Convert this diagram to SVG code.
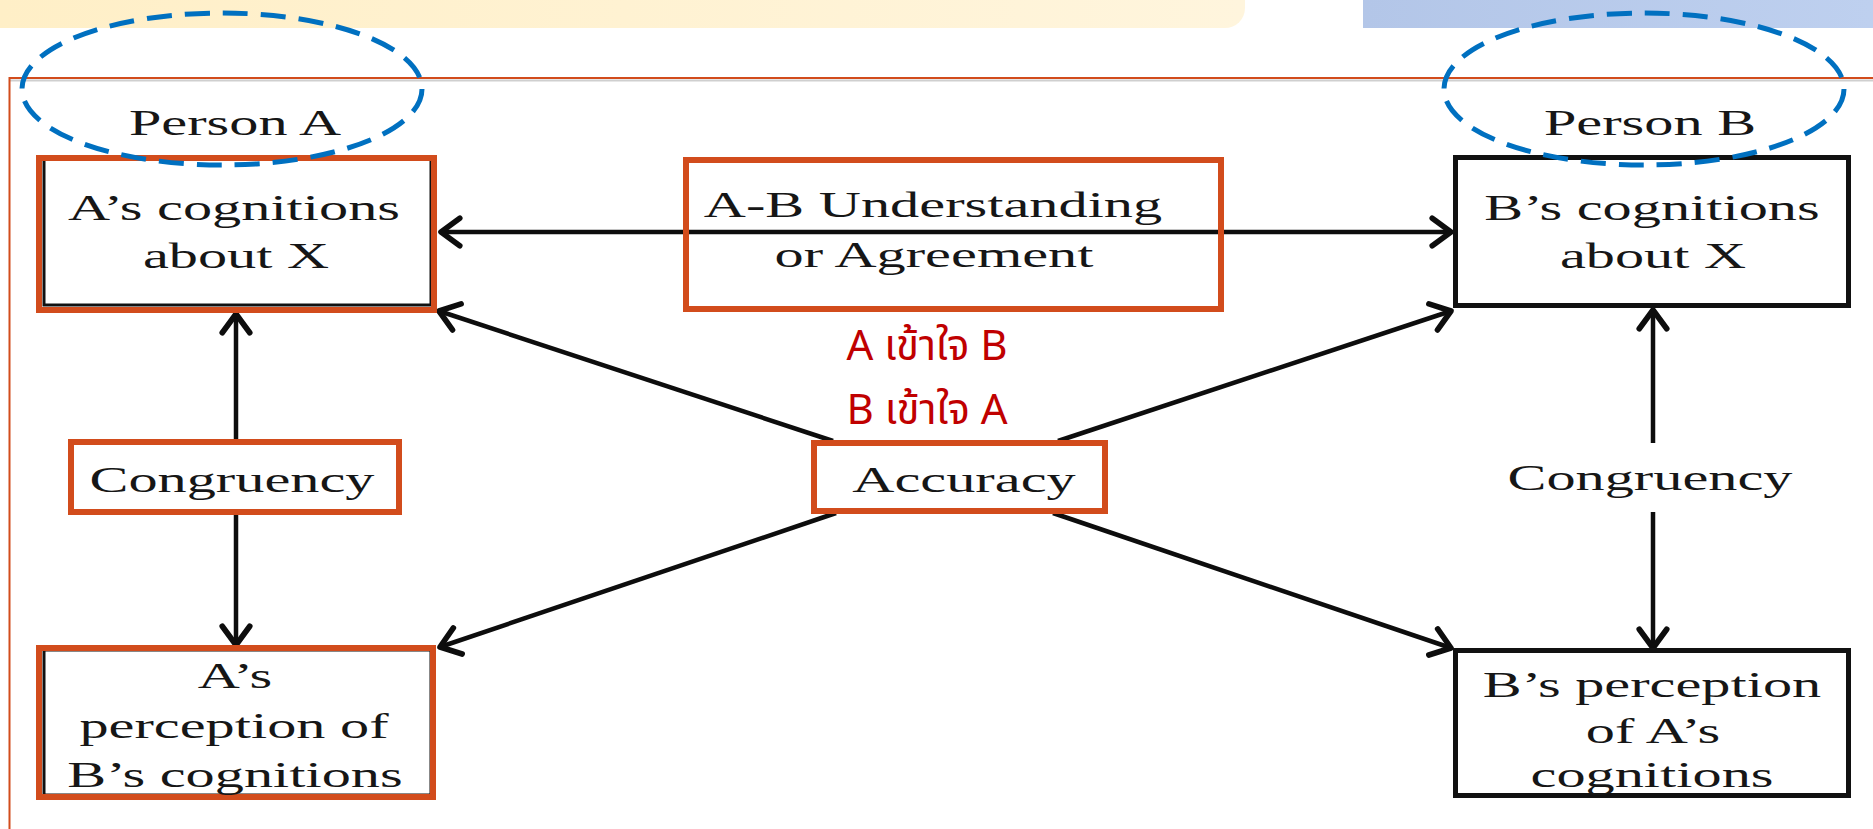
<svg xmlns="http://www.w3.org/2000/svg" width="1873" height="829" viewBox="0 0 1873 829">
  <style>
    .t { font-family: "Liberation Serif", "Times New Roman", serif; font-size: 36px; fill: #161616; text-anchor: middle; }
    .th { font-family: "Noto Sans", "Noto Sans Thai", "DejaVu Sans", sans-serif; font-size: 42px; fill: #C00000; text-anchor: middle; }
    .hl { fill: none; stroke: #D24C1C; stroke-width: 6; }
    .bx { fill: none; stroke: #111111; stroke-width: 3; }
    .bk { fill: #ffffff; stroke: #111111; stroke-width: 5; }
    .ring { fill: none; stroke: #0070C0; stroke-width: 5; stroke-dasharray: 25 13; }
    .ln { fill: none; stroke: #0d0d0d; stroke-width: 4.5; }
  </style>
  <defs>
    <linearGradient id="barY" x1="0" y1="0" x2="1" y2="0">
      <stop offset="0" stop-color="#FFEFC7"/>
      <stop offset="1" stop-color="#FFF5DD"/>
    </linearGradient>
    <linearGradient id="barB" x1="0" y1="0" x2="1" y2="0">
      <stop offset="0" stop-color="#B3C6E8"/>
      <stop offset="1" stop-color="#BED0EF"/>
    </linearGradient>
    <marker id="arr" markerUnits="userSpaceOnUse" markerWidth="40" markerHeight="40" viewBox="-22 -16 26 32" refX="0" refY="0" orient="auto-start-reverse">
      <path d="M-15,-11 L0,0 L-15,11" fill="none" stroke="#0d0d0d" stroke-width="4.5" stroke-linecap="round" stroke-linejoin="round"/>
    </marker>
  </defs>

  <rect width="1873" height="829" fill="#ffffff"/>

  <!-- header strips -->
  <path d="M0 0 H1245 V8 A20 20 0 0 1 1225 28 H0 Z" fill="url(#barY)"/>
  <rect x="1363" y="0" width="510" height="28" fill="url(#barB)"/>

  <!-- outer frame -->
  <line x1="9" y1="80.5" x2="1873" y2="80.5" stroke="#cfcfcf" stroke-width="2"/>
  <line x1="9" y1="78" x2="1873" y2="78" stroke="#D24C1C" stroke-width="2"/>
  <line x1="9.5" y1="77" x2="9.5" y2="829" stroke="#D24C1C" stroke-width="2"/>

  <!-- connectors -->
  <g id="connectors">
    <line class="ln" x1="441" y1="232" x2="1451" y2="232" marker-start="url(#arr)" marker-end="url(#arr)"/>
    <line class="ln" x1="833" y1="441" x2="439" y2="311" marker-end="url(#arr)"/>
    <line class="ln" x1="1058" y1="441" x2="1451" y2="311" marker-end="url(#arr)"/>
    <line class="ln" x1="836" y1="513" x2="440" y2="647" marker-end="url(#arr)"/>
    <line class="ln" x1="1053" y1="513" x2="1451" y2="648" marker-end="url(#arr)"/>
    <line class="ln" x1="236" y1="440" x2="236" y2="314" marker-end="url(#arr)"/>
    <line class="ln" x1="236" y1="514" x2="236" y2="645" marker-end="url(#arr)"/>
    <line class="ln" x1="1653" y1="443" x2="1653" y2="310" marker-end="url(#arr)"/>
    <line class="ln" x1="1653" y1="512" x2="1653" y2="648" marker-end="url(#arr)"/>
  </g>

  <!-- Person A -->
  <g id="person-a">
    <text class="t" transform="translate(235 135) scale(1.62 1)">Person A</text>
  </g>

  <!-- Person B -->
  <g id="person-b">
    <text class="t" transform="translate(1650 135) scale(1.62 1)">Person B</text>
  </g>

  <!-- A's cognitions about X -->
  <g id="a-cognitions">
    <rect x="40" y="158" width="393" height="150" fill="#ffffff"/>
    <rect class="bx" x="44" y="157" width="387" height="148"/>
    <rect class="hl" x="39" y="158" width="395" height="152"/>
    <text class="t" transform="translate(234 220) scale(1.62 1)">A’s cognitions</text>
    <text class="t" transform="translate(236 268) scale(1.62 1)">about X</text>
  </g>

  <!-- A-B understanding or agreement -->
  <g id="ab-understanding">
    <rect class="hl" x="686" y="160" width="535" height="149"/>
    <text class="t" transform="translate(933 217) scale(1.62 1)">A-B Understanding</text>
    <text class="t" transform="translate(934 267) scale(1.62 1)">or Agreement</text>
  </g>

  <!-- B's cognitions about X -->
  <g id="b-cognitions">
    <rect class="bk" x="1455.5" y="157.5" width="393" height="148"/>
    <text class="t" transform="translate(1652 220) scale(1.62 1)">B’s cognitions</text>
    <text class="t" transform="translate(1653 268) scale(1.62 1)">about X</text>
  </g>

  <!-- understanding notes -->
  <g id="notes">
    <text class="th" x="927" y="360">A เข้าใจ B</text>
    <text class="th" x="927" y="424">B เข้าใจ A</text>
  </g>

  <!-- Congruency (A side) -->
  <g id="congruency-a">
    <rect x="71" y="442" width="328" height="70" fill="#ffffff"/>
    <rect class="hl" x="71" y="442" width="328" height="70"/>
    <text class="t" transform="translate(232 492) scale(1.62 1)">Congruency</text>
  </g>

  <!-- Accuracy -->
  <g id="accuracy">
    <rect x="814" y="443" width="291" height="68" fill="#ffffff"/>
    <rect class="hl" x="814" y="443" width="291" height="68"/>
    <text class="t" transform="translate(964 492) scale(1.62 1)">Accuracy</text>
  </g>

  <!-- Congruency (B side) -->
  <g id="congruency-b">
    <rect x="1500" y="452" width="300" height="54" fill="#ffffff"/>
    <text class="t" transform="translate(1650 490) scale(1.62 1)">Congruency</text>
  </g>

  <!-- A's perception of B's cognitions -->
  <g id="a-perception">
    <rect x="40" y="650" width="393" height="146" fill="#ffffff"/>
    <rect class="bx" x="44" y="650" width="387" height="145"/>
    <rect class="hl" x="39" y="648" width="394" height="149"/>
    <text class="t" transform="translate(235 688) scale(1.62 1)">A’s</text>
    <text class="t" transform="translate(234 738) scale(1.62 1)">perception of</text>
    <text class="t" transform="translate(235 787) scale(1.62 1)">B’s cognitions</text>
  </g>

  <!-- B's perception of A's cognitions -->
  <g id="b-perception">
    <rect class="bk" x="1455.5" y="650.5" width="393" height="145"/>
    <text class="t" transform="translate(1652 697) scale(1.62 1)">B’s perception</text>
    <text class="t" transform="translate(1653 743) scale(1.62 1)">of A’s</text>
    <text class="t" transform="translate(1652 787) scale(1.62 1)">cognitions</text>
  </g>

  <!-- dashed rings round the two person labels -->
  <g id="rings">
    <ellipse class="ring" cx="222" cy="89" rx="200" ry="76"/>
    <ellipse class="ring" cx="1644" cy="89" rx="200" ry="76"/>
  </g>
</svg>
